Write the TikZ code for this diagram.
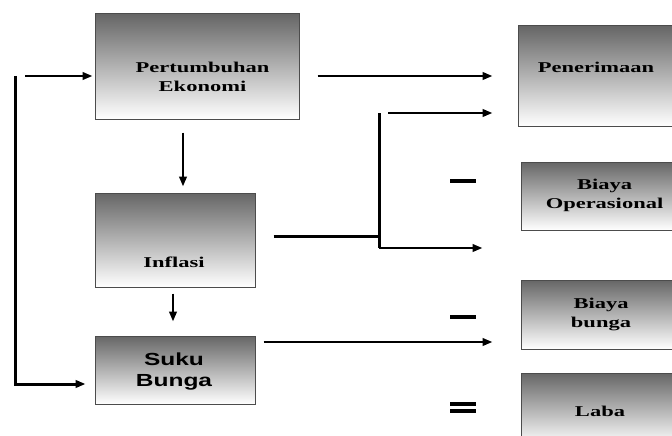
\documentclass[tikz,border=0pt]{standalone}
\usepackage{fontspec}
\usepackage{tikz}
\usetikzlibrary{arrows.meta}
\newfontfamily\boxserif[FakeStretch=1.5]{Liberation Serif}
\newfontfamily\boxsans[FakeStretch=1.4]{Liberation Sans}

\begin{document}
\begin{tikzpicture}[x=1pt, y=-1pt,
    box/.style={draw=black!70, line width=1pt, top color=black!60, bottom color=white, inner sep=0pt},
    txt/.style={align=center, inner sep=0pt, font=\boxserif\bfseries\fontsize{15}{19}\selectfont},
    thk/.style={line width=3pt},
    arr/.style={line width=2.4pt, -{Triangle[length=10pt,width=7.5pt]}}]
    \clip (0,0) rectangle (672,436);
    \fill[white] (0,0) rectangle (672,436);
    % kotak kiri
    \node[box, minimum width=204pt, minimum height=105pt] (pe) at (197,66.5) {};
    \node[box, minimum width=160pt, minimum height=94pt] (inf) at (175,240) {};
    \node[box, minimum width=160pt, minimum height=68pt] (sb) at (175,370) {};
    % kotak kanan
    \node[box, minimum width=190pt, minimum height=100pt] (pen) at (613,76) {};
    \node[box, minimum width=179pt, minimum height=68pt] (bo) at (610.5,196) {};
    \node[box, minimum width=179pt, minimum height=69pt] (bb) at (610.5,314.5) {};
    \node[box, minimum width=179pt, minimum height=72pt] (lb) at (610.5,409) {};
    % teks
    \node[txt] (pe-t) at (202.5,77) {Pertumbuhan\\Ekonomi};
    \node[txt] (inf-t) at (174,262) {Inflasi};
    \node[txt, font=\boxsans\bfseries\fontsize{17.5}{21}\selectfont] (sb-t) at (174,372) {Suku\\Bunga};
    \node[txt] (pen-t) at (596,67) {Penerimaan};
    \node[txt] (bo-t) at (604.5,195) {Biaya\\Operasional};
    \node[txt] (bb-t) at (601,314) {Biaya\\bunga};
    \node[txt] (lb-t) at (600,411) {Laba};
    % garis balik kiri
    \coordinate (l1) at (15,76);
    \coordinate (l2) at (15,384);
    \draw[arr, shorten <=10pt, shorten >=2pt] (l1) -- (pe.west |- l1);
    \draw[thk, -{Triangle[length=10pt,width=7.5pt]}, shorten >=9pt] (l1) -- (l2) -- (sb.west |- l2);
    % panah vertikal
    \draw[arr, shorten <=13pt, shorten >=6pt] ([xshift=-14pt]pe.south) -- ([xshift=-14pt]pe.south |- inf.north);
    \draw[arr, shorten <=6pt, shorten >=14pt] ([xshift=-2pt]inf.south) -- ([xshift=-2pt]sb.north);
    % panah ke kanan
    \draw[arr, shorten <=18pt, shorten >=25pt] (pe.east |- pen.west) -- (pen.west);
    \coordinate (j) at (379,236);
    \coordinate (jt) at (379,113);
    \coordinate (jb) at (379,248);
    \draw[thk, shorten <=18pt] (inf.east |- j) -- (j);
    \draw[thk] (jt) -- (jb);
    \draw[arr, shorten <=9pt, shorten >=25pt] (jt) -- (pen.west |- jt);
    \draw[arr, shorten >=38pt] (jb) -- (bo.west |- jb);
    \draw[arr, shorten <=8pt, shorten >=28pt] ([yshift=28pt]sb.east) -- ([yshift=28pt]sb.east -| bb.west);
    % tanda minus dan sama dengan
    \draw[line width=4.5pt] (450,181) -- (476,181);
    \draw[line width=4.5pt] (450,317) -- (476,317);
    \draw[line width=3.8pt] (450,404) -- (476,404);
    \draw[line width=3.8pt] (450,411) -- (476,411);
\end{tikzpicture}
\end{document}
